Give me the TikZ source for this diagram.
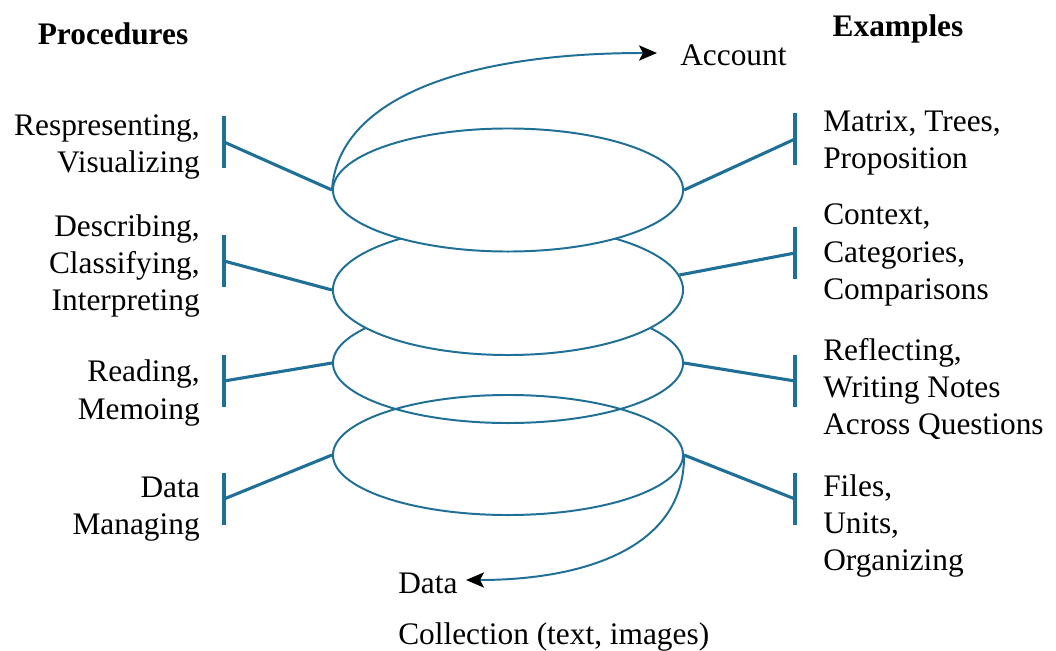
\documentclass[tikz,border=0pt]{standalone}
\usepackage{fontspec}
\setmainfont{Liberation Serif}
\usepackage{tikz}
\usetikzlibrary{shapes.geometric, arrows.meta, positioning}

\definecolor{spiralblue}{RGB}{31,111,151}

\begin{document}
\begin{tikzpicture}[x=0.025cm,y=-0.025cm,
    font=\fontsize{22.3pt}{26.5pt}\selectfont,
    ring/.style={ellipse,draw=spiralblue,line width=1.4pt,minimum width=8.75cm,inner sep=0pt},
    spoke/.style={draw=spiralblue,line width=2.2pt},
    proc node/.style={align=right,anchor=east,inner sep=0pt},
    ex node/.style={align=left,anchor=west,inner sep=0pt},
    turn/.style={draw=spiralblue,line width=1.4pt,-{Stealth[length=0.45cm,width=0.38cm,inset=0.1cm,black]}}]

  \useasboundingbox (0,0) rectangle (1056,650);

  % loops of the spiral, lower ones first so the upper ones cover them
  \node[ring,fill=white,minimum height=3cm] (r3) at (508,363) {};
  \node[ring,minimum height=3cm] (r4) at (508,455) {};
  \node[ring,fill=white,minimum height=3.25cm] (r2) at (508,290) {};
  \node[ring,fill=white,minimum height=3.075cm] (r1) at (508,190) {};

  % T-bars on both sides
  \coordinate (pl1) at (224,142);
  \coordinate (pl2) at (224,261);
  \coordinate (pl3) at (224,381);
  \coordinate (pl4) at (224,499);
  \coordinate (el1) at (795,139);
  \coordinate (el2) at (795,253);
  \coordinate (el3) at (795,381);
  \coordinate (el4) at (795,499);

  \foreach \b in {pl1,pl2,pl3,pl4,el1,el2,el3,el4}
    \draw[spoke] ([yshift=-0.65cm]\b) -- ([yshift=0.65cm]\b);

  \path[spoke]
    (r1.west) edge (pl1)
    (r2.west) edge (pl2)
    (r3.west) edge (pl3)
    (r4.west) edge (pl4)
    (r1.east) edge (el1)
    (r2.5)    edge (el2)
    (r3.east) edge (el3)
    (r4.east) edge (el4);

  % headings
  \node[font=\fontsize{22.3pt}{26pt}\selectfont\bfseries,anchor=base] (proc) at (113,45) {Procedures};
  \node[font=\fontsize{22.3pt}{26pt}\selectfont\bfseries,anchor=base] (expl) at (898,37) {Examples};

  % procedures
  \node[proc node] (p1) at (200,147) {Respresenting,\\Visualizing};
  \node[proc node] (p2) at (200,266) {Describing,\\Classifying,\\Interpreting};
  \node[proc node] (p3) at (200,393) {Reading,\\Memoing};
  \node[proc node] (p4) at (200,509) {Data\\Managing};

  % examples
  \node[ex node] (x1) at (823,143) {Matrix, Trees,\\Proposition};
  \node[ex node] (x2) at (823,255) {Context,\\Categories,\\Comparisons};
  \node[ex node] (x3) at (823,389) {Reflecting,\\Writing Notes\\Across Questions};
  \node[ex node] (x4) at (823,526) {Files,\\Units,\\Organizing};

  % way out at the top and way in at the bottom
  \node[anchor=base west,inner sep=0pt] (account) at (680,65) {Account};
  \coordinate (acctip) at (657,53);
  \draw[turn] (r1.west) .. controls (338,100) and (460,53) .. (acctip);

  \node[anchor=base west,inner sep=0pt] (data) at (398,593) {Data};
  \node[anchor=base west,inner sep=0pt] (coll) at (398,644) {Collection (text, images)};
  \coordinate (datatip) at (466,580);
  \draw[turn] (r4.east) .. controls (685,550) and (580,580) .. (datatip);

\end{tikzpicture}
\end{document}
